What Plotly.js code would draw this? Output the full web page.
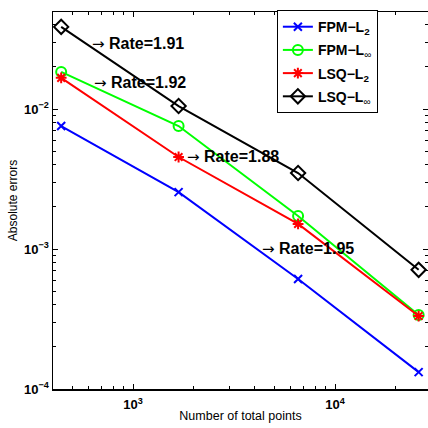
<!DOCTYPE html>
<html>
<head>
<meta charset="utf-8">
<script src="https://cdn.plot.ly/plotly-3.0.1.min.js"></script>
<style>html,body{margin:0;padding:0;background:#fff;}#plot{width:428px;height:428px;}</style>
</head>
<body>
<div id="plot"></div>
<script>
// Data
const points = [441, 1681, 6561, 25921];
const fpmL2 = [0.00756, 0.00255, 0.00061, 0.000132];
const fpmLinf = [0.0184, 0.00756, 0.00172, 0.000338];
const lsqL2 = [0.0167, 0.00454, 0.00151, 0.000332];
const lsqLinf = [0.0386, 0.0105, 0.00349, 0.00071];
const seriesNames = [
  '<b>FPM\u2212L<sub>2</sub></b>',
  '<b>FPM\u2212L</b><sub>\u221e</sub>',
  '<b>LSQ\u2212L<sub>2</sub></b>',
  '<b>LSQ\u2212L</b><sub>\u221e</sub>'
];
const rateLabels = ['Rate=1.91', 'Rate=1.92', 'Rate=1.88', 'Rate=1.95'];
const xTickVals = [1000, 10000];
const xTickText = ['<b>10<sup>3</sup></b>', '<b>10<sup>4</sup></b>'];
const yTickVals = [1e-4, 1e-3, 1e-2];
const yTickText = ['<b>10<sup>\u22124</sup></b>', '<b>10<sup>\u22123</sup></b>', '<b>10<sup>\u22122</sup></b>'];

function minorTicks(lo, hi) {
  const out = [];
  for (let d = lo; d <= hi; d *= 10) for (let m = 2; m <= 9; m++) out.push(m * d);
  return out;
}

const font = 'Liberation Sans, Arial, sans-serif';
const mk = (y, name, color, symbol, size, g) => ({
  x: points, y: y, name: name, type: 'scatter', mode: 'lines+markers', legendgroup: g,
  line: {color: color, width: 2},
  marker: {symbol: symbol, size: size, color: color, line: {color: color, width: 2}}
});
const traces = [
  mk(fpmL2, seriesNames[0], '#0000ff', 'x-thin-open', 8, 'a'),
  mk(fpmLinf, seriesNames[1], '#00ff00', 'circle-open', 10, 'b'),
  mk(lsqL2, seriesNames[2], '#ff0000', 'asterisk-open', 9, 'c'),
  mk(lsqLinf, seriesNames[3], '#000000', 'diamond-open', 11, 'd')
];

const annPos = [[0.098, 0.915], [0.104, 0.812], [0.352, 0.615], [0.552, 0.371]];
const annotations = rateLabels.map((t, i) => ({
  xref: 'paper', yref: 'paper', x: annPos[i][0], y: annPos[i][1],
  xanchor: 'left', yanchor: 'middle', showarrow: false,
  text: '<span style="font-family:DejaVu Sans;font-size:15px">\u2192</span> <b>' + t + '</b>',
  font: {family: font, size: 16, color: '#000'}
}));

const layout = {
  width: 428, height: 428,
  margin: {l: 53, r: 0, t: 12, b: 39},
  paper_bgcolor: '#fff', plot_bgcolor: '#fff',
  font: {family: font, color: '#000'},
  showlegend: true,
  legend: {
    x: 0.597, y: 1.005, xanchor: 'left', yanchor: 'top',
    bordercolor: '#000', borderwidth: 1, bgcolor: '#fff',
    font: {family: font, size: 14, color: '#000'},
    tracegroupgap: 2
  },
  xaxis: {
    type: 'log', range: [2.604, 4.46],
    tickmode: 'array', tickvals: xTickVals, ticktext: xTickText,
    ticks: 'inside', ticklen: 5, tickwidth: 1, tickcolor: '#000',
    showgrid: false, zeroline: false, showline: true, linecolor: '#000', linewidth: 1.5,
    mirror: 'ticks', ticklabelstandoff: 3,
    tickfont: {family: font, size: 13, color: '#000'},
    minor: {tickmode: 'array', tickvals: minorTicks(100, 10000), ticks: 'inside', ticklen: 3, tickcolor: '#000', showgrid: false},
    title: {text: 'Number of total points', font: {family: font, size: 12.5, color: '#000'}, standoff: 0}
  },
  yaxis: {
    type: 'log', range: [-4, -1.307],
    tickmode: 'array', tickvals: yTickVals, ticktext: yTickText,
    ticks: 'inside', ticklen: 5, tickwidth: 1, tickcolor: '#000',
    showgrid: false, zeroline: false, showline: true, linecolor: '#000', linewidth: 1.5,
    mirror: 'ticks',
    tickfont: {family: font, size: 13, color: '#000'},
    minor: {tickmode: 'array', tickvals: minorTicks(1e-4, 1e-2), ticks: 'inside', ticklen: 3, tickcolor: '#000', showgrid: false},
    title: {text: 'Absolute errors', font: {family: font, size: 12, color: '#000'}, standoff: 4}
  },
  annotations: annotations
};

Plotly.newPlot('plot', traces, layout, {displayModeBar: false, staticPlot: true});
</script>
</body>
</html>
